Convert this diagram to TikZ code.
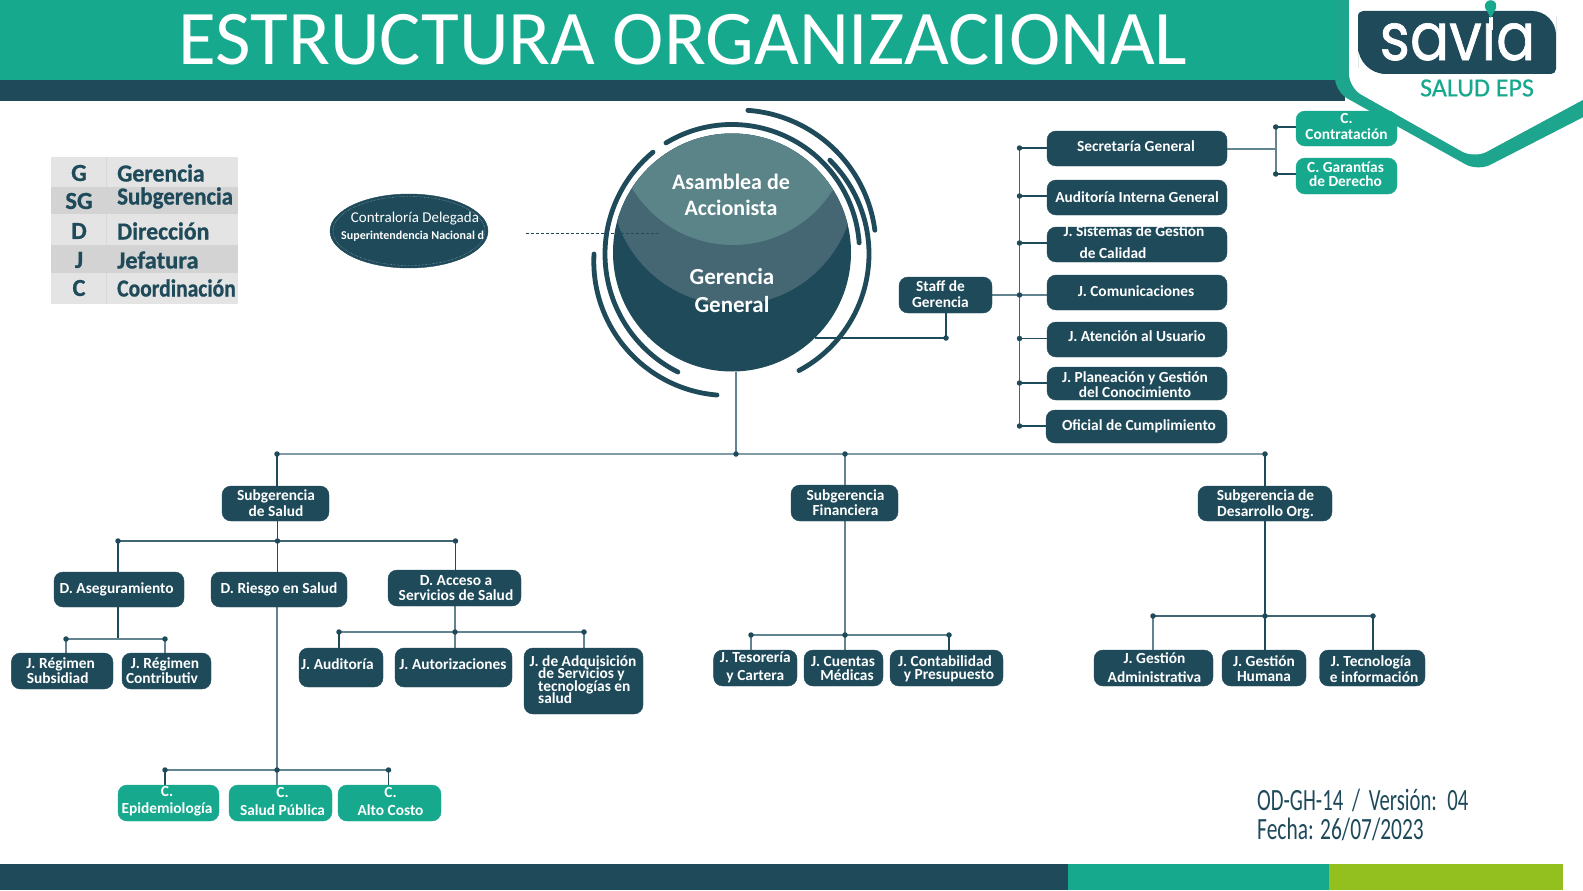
\documentclass[tikz,border=0pt]{standalone}
\usepackage{fontspec}
\setmainfont{Carlito}
\newfontfamily\logofont[FakeBold=1]{Poppins}
\newfontfamily\legf[UprightFont=* Bold,FakeBold=.8]{Carlito}
\newfontfamily\salf[FakeBold=.6]{Carlito}
\usetikzlibrary{calc,shapes.geometric}
\pgfdeclarelayer{bg}
\pgfdeclarelayer{wires}
\pgfsetlayers{bg,wires,main}
\definecolor{dk}{HTML}{1E4A5A}
\definecolor{teal1}{HTML}{17A98E}
\definecolor{teal2}{HTML}{1EA58D}
\definecolor{gr}{HTML}{93C01F}
\definecolor{lensa}{HTML}{5A8488}
\definecolor{lensb}{HTML}{446773}
\definecolor{wl}{HTML}{628390}
\definecolor{rowa}{HTML}{E4E4E4}
\definecolor{rowb}{HTML}{D3D3D3}
\newcommand\shf[4][c]{\smash{\makebox[0pt]{\hspace*{#2pt}\hspace*{#2pt}\raisebox{\dimexpr#3pt-.25em-1.5pt\relax}{\begin{tabular}[c]{@{}#1@{}}#4\end{tabular}}}}}
\newcommand\bx[7]{\node[#2,minimum width={(#5-#3)*1pt},minimum height={(#6-#4)*1pt}] (#1) at ({(#3+#5)/2},{(#4+#6)/2}) {#7};}
\newcommand\dt[3]{\node[jdot] (#1) at (#2,#3) {};}
\newcommand\ringarc[5]{\draw[ring] ({#1+#3*cos(#4)},{#2-#3*sin(#4)}) arc[start angle=#4,end angle=#5,radius=#3*1pt];}
\tikzset{
 base/.style={rectangle,rounded corners=9pt,inner sep=0pt,outer sep=0pt,text=white,font=\fontsize{15.4}{15}\selectfont\bfseries},
 dkbox/.style={base,fill=dk,draw=dk},
 tlbox/.style={base,fill=teal1,draw=teal1},
 jdot/.style={circle,fill=dk,inner sep=0pt,minimum size=5.5pt},
 wire/.style={draw=dk,line width=1.2pt},
 wirel/.style={draw=wl,line width=1.4pt},
 bus/.style={draw=dk!85!white,line width=1.8pt},
 busl/.style={draw=wl,line width=2pt},
 ring/.style={draw=dk,line width=4.8pt,line cap=round},
 leg/.style={inner sep=0pt,text=dk,font=\fontsize{24.5}{24}\legf},
}
\begin{document}
\begin{tikzpicture}[x=1pt,y=-1pt]
\useasboundingbox (0,0) rectangle (1583,891);
\begin{pgfonlayer}{bg}
\fill[white] (0,0) rectangle (1583,891);
\end{pgfonlayer}
% header
\fill[teal1] (0,0) rectangle (1345,80);
\fill[dk] (0,80) rectangle (1345,101);
\node[text=white,font=\fontsize{77.3}{77}\selectfont] (title) at (683,40) {ESTRUCTURA ORGANIZACIONAL};
% footer
\fill[dk] (0,864) rectangle (1068,890);
\fill[teal1] (1068,864) rectangle (1329,890);
\fill[gr] (1329,864) rectangle (1563,890);
% shield
\begin{scope}
\clip (0,0) rectangle (1583,891);
\fill[teal2,rounded corners=14pt] (1335,-20) -- (1335,91.6) -- (1477.8,171.2) -- (1603,107) -- (1603,-20) -- cycle;
\fill[white,rounded corners=14pt] (1349,-20) -- (1349,87.7) -- (1474.3,158.4) -- (1603,89) -- (1603,-20) -- cycle;
\fill[dk] [rounded corners=5pt] (1358,40) -- (1358,11) -- (1440,11) [rounded corners=24pt] -- (1556,11) -- (1556,40) [rounded corners=5pt] -- (1556,74) -- (1440,74) [rounded corners=28pt] -- (1358,74) -- cycle;
\node[text=white,inner sep=0pt,anchor=base,font=\fontsize{66}{66}\logofont] (savia) at (1457.5,60) {\scalebox{.88}[1]{sav\char"0131 a}};
\fill[white] (1488.7,17) -- (1492.7,17) -- (1492.7,30) -- (1488.7,30) -- cycle;
\fill[teal1] (1490.7,18) -- (1485.2,8) arc[start angle=200,end angle=-20,radius=5.8pt] -- cycle;
\end{scope}
\node[text=teal1,inner sep=0pt,font=\fontsize{26}{26}\salf] (salud) at (1477,88) {SALUD EPS};
% legend
\fill[rowa] (51,157) rectangle (238,187);
\fill[rowb] (51,187) rectangle (238,214);
\fill[rowa] (51,214) rectangle (238,245);
\fill[rowb] (51,245) rectangle (238,273);
\fill[rowa] (51,273) rectangle (238,304);
\draw[rowb!70!rowa,line width=.8pt] (106,157) -- (106,187) (106,214) -- (106,245) (106,273) -- (106,304);
\node[leg] (lg1) at (79,173) {G};
\node[leg] (lg2) at (79,201) {SG};
\node[leg] (lg3) at (79,231) {D};
\node[leg] (lg4) at (79,260) {J};
\node[leg] (lg5) at (79,288) {C};
\node[leg,anchor=west] (lt1) at (117,173) {\scalebox{.97}[1]{Gerencia}};
\node[leg,anchor=west] (lt2) at (117,198) {\scalebox{.935}[1]{Subgerencia}};
\node[leg,anchor=west] (lt3) at (117,231) {\scalebox{.97}[1]{Dirección}};
\node[leg,anchor=west] (lt4) at (117,260) {Jefatura};
\node[leg,anchor=west] (lt5) at (117,288) {\scalebox{.88}[1]{Coordinación}};
% contraloria
\node[ellipse,fill=dk,draw=dk,inner sep=0pt,minimum width=158pt,minimum height=74pt] (cd) at (409,231) {};
\draw[white!70!dk,line width=.4pt,densely dotted] (409,231) ellipse[x radius=76pt,y radius=34.5pt];
\begin{scope}
\clip (409,231) ellipse[x radius=78pt,y radius=36.5pt];
\node[text=white,font=\fontsize{15}{15}\selectfont] (cd1) at (415,219) {Contraloría Delegada};
\node[text=white,anchor=west,inner sep=0pt,font=\fontsize{12}{12}\selectfont\bfseries] (cd2) at (341,236) {Superintendencia Nacional d};
\end{scope}
% circle
\node[circle,fill=dk,inner sep=0pt,minimum size=238pt] (gg) at (732,252.5) {};
\begin{scope}
\clip (732,252.5) circle[radius=119pt];
\fill[lensb] (733,183) circle[radius=122pt];
\fill[lensa] (733,127) circle[radius=118pt];
\end{scope}
\node[text=white,align=center,inner sep=0pt,font=\fontsize{22}{26}\selectfont\bfseries] (asm) at (731,195) {Asamblea de\\Accionista};
\node[text=white,align=center,inner sep=0pt,font=\fontsize{23}{27.5}\selectfont\bfseries] (ger) at (732,290.5) {Gerencia\\General};
\coordinate (c1) at (526,233);
\coordinate (c2) at (658,233);
\draw[dk,line width=.6pt,densely dashed] (c1) -- (c2);
% boxes right
\bx{sec}{dkbox}{1047}{131}{1227}{166}{\shf{-1}{1.5}{Secretaría General}}
\bx{aud}{dkbox}{1047}{180}{1227}{215}{\shf{0}{.2}{Auditoría Interna General}}
\bx{sis}{dkbox}{1047}{227}{1227}{262}{\shf{0}{2}{\hspace*{-6pt}J. Sistemas de Gestión\\[6pt]\hspace*{-48pt}de Calidad}}
\bx{com}{dkbox}{1047}{275}{1227}{310}{\shf{-1}{.5}{J. Comunicaciones}}
\bx{ate}{dkbox}{1047}{322}{1227}{357}{\shf{0}{2.5}{J. Atención al Usuario}}
\bx{pla}{dkbox}{1047}{367}{1227}{400}{\shf{-2}{-1.5}{J. Planeación y Gestión\\[-1pt]del Conocimiento}}
\bx{ofi}{dkbox}{1046}{410}{1227}{443}{\shf{2.5}{.5}{Oficial de Cumplimiento}}
\bx{staff}{dkbox}{899}{277}{992}{313}{\shf{-5}{.5}{Staff de\\Gerencia}}
\bx{con}{tlbox}{1296}{111}{1397}{146}{\shf{0}{1.5}{C.\\[1pt]Contratación}}
\bx{gar}{tlbox}{1296}{158}{1397}{194}{\shf{-1}{1}{C. Garantías\\[-1pt]de Derecho}}
% subgerencias
\bx{subs}{dkbox}{222}{486}{329}{521}{\shf{.5}{0}{Subgerencia\\de Salud}}
\bx{subf}{dkbox}{791}{485}{898}{521}{\shf{1}{-.25}{Subgerencia\\Financiera}}
\bx{subd}{dkbox}{1198}{486}{1332}{521}{\shf{.5}{0}{Subgerencia de\\Desarrollo Org.}}
% direcciones
\bx{dase}{dkbox}{54}{572}{184}{607}{\shf{-2.4}{.5}{D. Aseguramiento}}
\bx{drie}{dkbox}{211}{572}{347}{607}{\shf{0}{.5}{D. Riesgo en Salud}}
\bx{dacc}{dkbox}{388}{570}{521}{606}{\shf{1.5}{0}{D. Acceso a\\Servicios de Salud}}
\bx{jrs}{dkbox}{11.4}{653}{113}{689}{\shf{-3}{0}{\hspace*{3pt}J. Régimen\\\hspace*{-3pt}Subsidiad}}
\bx{jrc}{dkbox}{122}{653}{211}{689}{\shf{-3}{0}{\hspace*{3pt}J. Régimen\\\hspace*{-3pt}Contributiv}}
\bx{jau}{dkbox}{299}{648}{383}{687}{\shf{-3.5}{2.5}{J. Auditoría}}
\bx{jaut}{dkbox}{395}{648}{512}{687}{\shf{-.5}{2.5}{J. Autorizaciones}}
\bx{jadq}{dkbox}{524}{648}{643}{714}{\shf[l]{-.5}{1}{J. de Adquisición\\[-3pt]\hspace*{8.5pt}de Servicios y\\[-3pt]\hspace*{8.5pt}tecnologías en\\[-3pt]\hspace*{8.5pt}salud}}
\bx{cep}{tlbox}{118}{785}{219}{821}{\shf{-1.5}{2.5}{C.\\[2pt]Epidemiología}}
\bx{csp}{tlbox}{229}{785}{332}{821}{\shf{2}{1.25}{C.\\[2.5pt]Salud Pública}}
\bx{cac}{tlbox}{338}{785}{441}{821}{\shf{1}{1.25}{C.\\[2.5pt]Alto Costo}}
\bx{jte}{dkbox}{713.6}{650}{797}{686}{\shf{0}{1}{J. Tesorería\\[3pt]y Cartera}}
\bx{jcu}{dkbox}{804}{650}{883}{686}{\shf{1.5}{-1}{\hspace*{-4pt}J. Cuentas\\[-1pt]\hspace*{4pt}Médicas}}
\bx{jco}{dkbox}{890}{650}{1003}{686}{\shf{.5}{0}{\hspace*{-4pt}J. Contabilidad\\[-2pt]\hspace*{4pt}y Presupuesto}}
\bx{jga}{dkbox}{1094}{650}{1213}{686}{\shf{1}{0}{J. Gestión\\[3pt]Administrativa}}
\bx{jgh}{dkbox}{1222}{650}{1306}{686}{\shf{0}{-1.5}{J. Gestión\\Humana}}
\bx{jtc}{dkbox}{1319.5}{650}{1425}{686}{\shf{.3}{-1.5}{\hspace*{-3pt}J. Tecnología\\\hspace*{3pt}e información}}
% junctions
\dt{r1}{1019.5}{148}\dt{r2}{1019.5}{196}\dt{r3}{1019.5}{243}\dt{r4}{1019.5}{295}\dt{r5}{1019.5}{338.5}\dt{r6}{1019.5}{383}\dt{r7}{1019.5}{426}
\dt{st}{946}{338}
\coordinate (ggr) at (815,338);
\dt{s1}{1275.7}{127}\dt{s2}{1275.7}{174}
\coordinate (sj) at (1275.7,149);
\dt{m0}{736}{454}\dt{m1}{277}{454}\dt{m2}{845}{454}\dt{m3}{1265}{454}
\dt{a0}{277.5}{541}\dt{a1}{118}{541}\dt{a2}{455.5}{541}
\dt{b1}{66}{639}\dt{b2}{165}{639}
\coordinate (bj) at (118,639);
\dt{e0}{455}{632}\dt{e1}{339}{632}\dt{e2}{584}{632}
\dt{f0}{277}{770}\dt{f1}{165}{770}\dt{f2}{388.5}{770}
\dt{g0}{845}{635}\dt{g1}{751}{635}\dt{g2}{949}{635}
\dt{h0}{1265}{616}\dt{h1}{1153}{616}\dt{h2}{1373}{616}
\begin{pgfonlayer}{wires}
\draw[bus] (r1.center) -- (r7.center);
\foreach \d/\b in {r1/sec,r2/aud,r3/sis,r5/ate,r6/pla,r7/ofi}{\draw[wire] (\d.center) -- (\d -| \b.west);}
\draw[wirel] (r4.center) -- (r4 -| com.west);
\draw[wirel] (staff.east |- r4) -- (r4.center);
% staff
\draw[wire] (ggr) -- (st.center);
\draw[wire,line width=1.4pt] (st.center) -- (st |- staff.south);
% secretaria branch
\draw[wirel,line width=2pt] (sec.east |- sj) -- (sj);
\draw[busl] (s1.center) -- (s2.center);
\draw[wire,line width=1.6pt] (s1.center) -- (s1 -| con.west);
\draw[wire,line width=1.6pt] (s2.center) -- (s2 -| gar.west);
% main tree
\draw[wirel] (m0 |- gg.south) -- (m0.center);
\draw[busl,draw=wl!80!white] (m1.center) -- (m3.center);
\draw[wire] (m1.center) -- (m1 |- subs.north);
\draw[wirel] (m2.center) -- (m2 |- subf.north);
\draw[wire] (m3.center) -- (m3 |- subd.north);
% salud
\draw[wire] (a0 |- subs.south) -- (a0.center);
\draw[bus] (a1.center) -- (a2.center);
\draw[wire] (a1.center) -- (a1 |- dase.north);
\draw[wire] (a0.center) -- (a0 |- drie.north);
\draw[wire] (a2.center) -- (a2 |- dacc.north);
% aseguramiento
\draw[wire] (bj |- dase.south) -- (bj);
\draw[busl] (b1.center) -- (b2.center);
\draw[wirel] (b1.center) -- (b1 |- jrs.north);
\draw[wirel] (b2.center) -- (b2 |- jrc.north);
% acceso
\draw[wirel] (e0 |- dacc.south) -- (e0.center);
\draw[busl] (e1.center) -- (e2.center);
\draw[wire] (e1.center) -- (e1 |- jau.north);
\draw[wirel] (e0.center) -- (e0 |- jaut.north);
\draw[wirel] (e2.center) -- (e2 |- jadq.north);
% riesgo
\draw[wirel] (f0 |- drie.south) -- (f0.center);
\draw[busl] (f1.center) -- (f2.center);
\draw[wire] (f1.center) -- (f1 |- cep.north);
\draw[wirel] (f0.center) -- (f0 |- csp.north);
\draw[wire] (f2.center) -- (f2 |- cac.north);
% financiera
\draw[wirel] (g0 |- subf.south) -- (g0.center);
\draw[busl] (g1.center) -- (g2.center);
\draw[wirel] (g1.center) -- (g1 |- jte.north);
\draw[wirel] (g0.center) -- (g0 |- jcu.north);
\draw[wire] (g2.center) -- (g2 |- jco.north);
% desarrollo
\draw[wire,line width=1.6pt] (h0 |- subd.south) -- (h0.center);
\draw[bus] (h1.center) -- (h2.center);
\draw[wirel] (h1.center) -- (h1 |- jga.north);
\draw[wire,line width=1.6pt] (h0.center) -- (h0 |- jgh.north);
\draw[wire] (h2.center) -- (h2 |- jtc.north);
\end{pgfonlayer}
% rings
\ringarc{732}{252}{127.5}{121.2}{4.1}
\ringarc{737}{254}{132}{45.3}{-62}
\ringarc{737}{254}{132}{129.5}{243.4}
\ringarc{738}{248}{138}{85.9}{7.4}
\ringarc{728}{261.3}{134.2}{176.9}{265.3}
% version
\node[text=dk,anchor=west,inner sep=0pt,font=\fontsize{30}{30}\selectfont] (ver) at (1257,800.5) {\scalebox{.69}[1.03]{OD-GH-14\hspace{6pt} /\hspace{6pt} Versión:\hspace{6pt} 04}};
\node[text=dk,anchor=west,inner sep=0pt,font=\fontsize{30}{30}\selectfont] (fec) at (1257,829) {\scalebox{.715}[1.03]{Fecha: 26/07/2023}};
\end{tikzpicture}
\end{document}
